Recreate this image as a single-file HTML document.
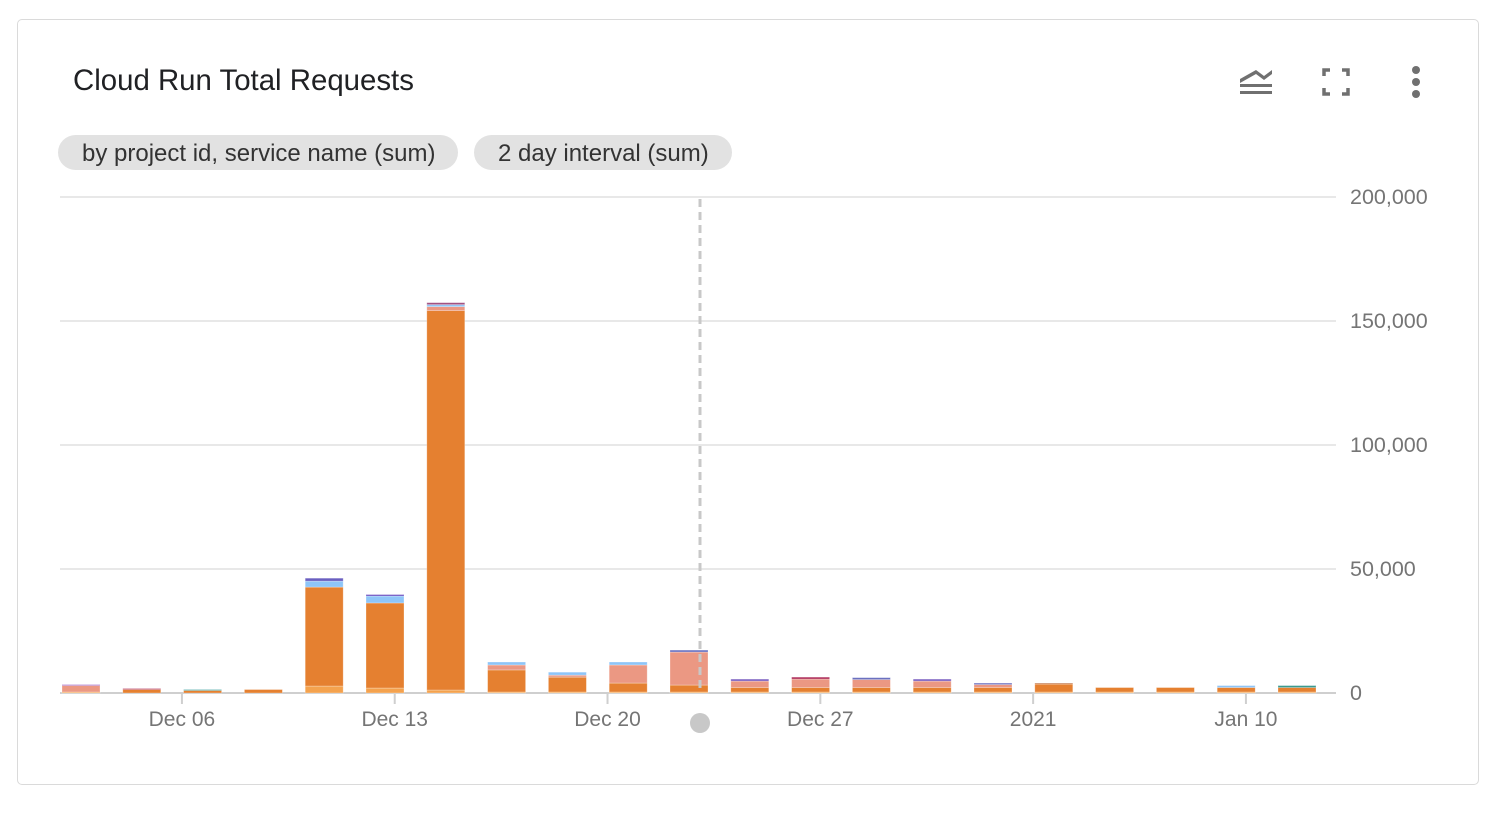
<!DOCTYPE html>
<html><head><meta charset="utf-8"><style>
body{margin:0;width:1502px;height:822px;background:#fff;font-family:"Liberation Sans",Arial,sans-serif;overflow:hidden}
.card{position:absolute;left:17px;top:19px;width:1460px;height:764px;border:1.5px solid #dadada;border-radius:5px}
.title{position:absolute;left:73px;top:64px;font-size:29.4px;color:#202124}
.chip{position:absolute;top:135px;height:35px;line-height:37px;background:#e2e2e2;border-radius:18px;font-size:24px;color:#333;padding:0 24px;box-sizing:border-box;white-space:nowrap}
</style></head><body>
<div class="card"></div>
<div class="title">Cloud Run Total Requests</div>
<div class="chip" style="left:58px;width:400px">by project id, service name (sum)</div>
<div class="chip" style="left:474px;width:258px">2 day interval (sum)</div>
<svg style="position:absolute;left:0;top:0" width="1502" height="822" id="svg">
<g fill="#707070">
<path d="M1240 79 L1256 70 L1264 76 L1272 70 L1272 74 L1264 80 L1256 74 L1240 83Z"/>
<rect x="1240" y="84" width="32" height="3"/><rect x="1240" y="91" width="32" height="3"/></g>
<g fill="none" stroke="#707070" stroke-width="3.5">
<path d="M1324 76V70H1330M1342 70H1348V76M1348 88V94H1342M1330 94H1324V88"/></g>
<g fill="#707070">
<circle cx="1416" cy="70" r="4"/><circle cx="1416" cy="82" r="4"/><circle cx="1416" cy="94" r="4"/></g>
<g id="plot"></g>
</svg>
<script>
const yTicks=[0,50000,100000,150000,200000];
const xLabels=["Dec 06","Dec 13","Dec 20","Dec 27","2021","Jan 10"];
const xLabelPos=[1.66,5.16,8.66,12.16,15.66,19.16];
const base=[400,0,0,0,2800,2000,1200,400,400,400,400,400,400,400,400,400,400,400,400,400,400];
const orange=[0,1400,1000,1400,39900,34300,153000,8900,6000,3600,2800,1800,1800,1800,1800,1800,3200,1800,1800,1800,1800];
const salmon=[2600,0,0,0,0,0,1600,2000,800,7300,13300,2600,3400,3200,2600,1200,0,0,0,0,0];
const lightblue=[0,0,0,0,2400,2800,800,1200,1200,1200,0,0,0,0,0,0,0,0,0,800,0];
const topSeries=[400,400,400,0,1200,600,800,0,0,0,800,800,800,800,800,600,400,0,0,0,800];
const topColors=["#9c5fc4","#b0305a","#3aa0a0","#e58030","#6a5fc0","#6a4fc0","#a05080","#8ec5f8","#8ec5f8","#8ec5f8","#6a70c0","#7a5fc0","#b0305a","#6a70c0","#7a5fc0","#6a70c0","#c07040","#e58030","#e58030","#70c0f0","#3a9a90"];
const series=[[base,"#f4a24e"],[orange,"#e58030"],[salmon,"#eb9883"],[lightblue,"#8ec5f8"]];
const NS="http://www.w3.org/2000/svg";
const plot=document.getElementById('plot');
const y=v=>693-v*496/200000;
const x=i=>81+i*60.8;
function mk(t,a){const e=document.createElementNS(NS,t);for(const k in a)e.setAttribute(k,a[k]);plot.appendChild(e);return e;}
yTicks.forEach(v=>{
 const l=mk('line',{x1:60,x2:1336,y1:y(v),y2:y(v),stroke:v?'#e8e8e8':'#cfcfcf','stroke-width':2});
 
 
 const t=mk('text',{x:1350,y:y(v)+7,'font-size':21.5,fill:'#757575'});t.textContent=v.toLocaleString('en-US');
 
 
});
xLabels.forEach((s,k)=>{
 const px=x(xLabelPos[k]);
 const l=mk('line',{x1:px,x2:px,y1:693,y2:704,stroke:'#cfcfcf','stroke-width':2});
 
 
 const t=mk('text',{x:px,y:726,'font-size':21,fill:'#757575','text-anchor':'middle'});t.textContent=s;
 
 
});
base.forEach((_,i)=>{
 let acc=0;
 const segs=series.map(s=>[s[0][i],s[1]]).concat([[topSeries[i],topColors[i]]]);
 segs.forEach(([v,c])=>{
  if(!v)return;
  const r=mk('rect',{x:x(i)-19,width:38,y:y(acc+v),height:y(acc)-y(acc+v),fill:c,stroke:'rgba(255,255,255,0.35)','stroke-width':0.8});
  
  
  acc+=v;
 });
});
const d=mk('line',{x1:700,x2:700,y1:199,y2:690,stroke:'#c8c8c8','stroke-width':3,'stroke-dasharray':'8,5'});


const c=mk('circle',{cx:700,cy:723,r:10,fill:'#c8c8c8'});


</script>
</body></html>
